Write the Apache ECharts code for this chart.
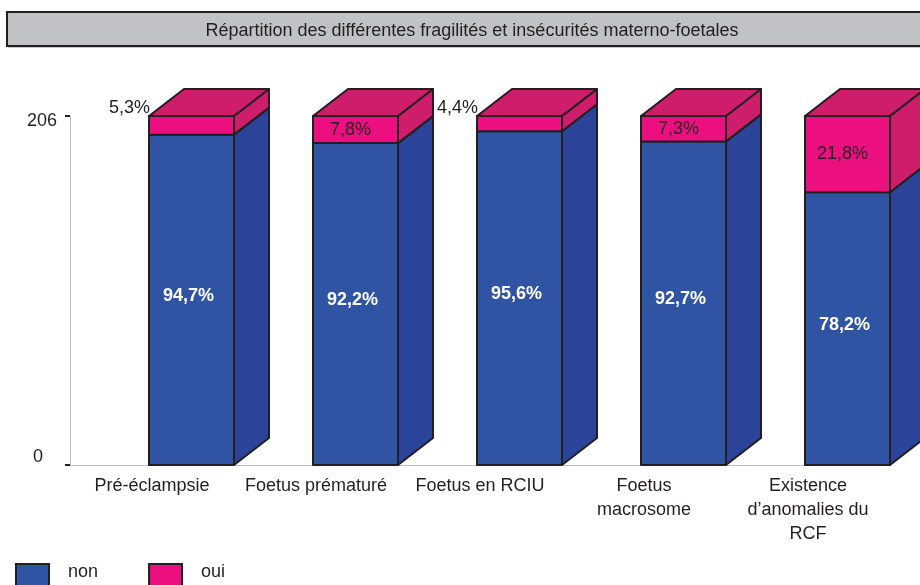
<!DOCTYPE html>
<html>
<head>
<meta charset="utf-8">
<title>Répartition des différentes fragilités et insécurités materno-foetales</title>
<script src="https://cdn.jsdelivr.net/npm/echarts@6/dist/echarts.min.js"></script>
<style>
	html, body { margin: 0; padding: 0; background: #fff; }
	#chart { width: 920px; height: 585px; }
</style>
</head>
<body>
<div id="chart"></div>
<script>
// categories (axe X)
var categories = ['Pré-éclampsie', 'Foetus prématuré', 'Foetus en RCIU', 'Foetus\nmacrosome', 'Existence\nd\u2019anomalies du\nRCF'];
// effectifs (n = 206)
var nonValues = [195, 190, 197, 191, 161];
var ouiValues = [11, 16, 9, 15, 45];
var yTicks = [0, 206];

var EDGE = '#231f20';
var FONT = '"Liberation Sans", Arial, sans-serif';
var FRONT_W = 85;   // largeur face avant
var DX = 35, DY = 27; // profondeur 3D

function formatPct(v, total) {
	return (v / total * 100).toFixed(1).replace('.', ',') + '%';
}

function totals() {
	return nonValues.map(function (v, i) { return v + ouiValues[i]; });
}

// serie "cube" empilee
function cubeSeries(name, values, bases, front, side, top, isTop) {
	var tot = totals();
	return {
		type: 'custom',
		name: name,
		clip: false,
		itemStyle: { color: front, borderColor: EDGE, borderWidth: 2 },
		encode: { x: 0, y: [1, 2] },
		data: values.map(function (v, i) { return [i, bases[i], bases[i] + v, v, tot[i]]; }),
		renderItem: function (params, api) {
			var i = api.value(0);
			var pLow = api.coord([i, api.value(1)]);
			var pHigh = api.coord([i, api.value(2)]);
			var band = api.size([1, 0])[0];
			var xr = pLow[0] + band / 2;
			var xl = xr - FRONT_W;
			var yb = pLow[1], yt = pHigh[1];
			var line = { stroke: EDGE, lineWidth: 2, lineJoin: 'round' };
			var children = [];
			children.push({
				type: 'polygon',
				shape: { points: [[xr, yb], [xr + DX, yb - DY], [xr + DX, yt - DY], [xr, yt]] },
				style: Object.assign({ fill: side }, line)
			});
			children.push({
				type: 'rect',
				shape: { x: xl, y: yt, width: FRONT_W, height: yb - yt },
				style: Object.assign({ fill: front }, line)
			});
			if (isTop) {
				children.push({
					type: 'polygon',
					shape: { points: [[xl, yt], [xr, yt], [xr + DX, yt - DY], [xl + DX, yt - DY]] },
					style: Object.assign({ fill: top }, line)
				});
			}
			var txt = formatPct(api.value(3), api.value(4));
			if (!isTop) {
				children.push({
					type: 'text',
					style: { text: txt, x: xl + FRONT_W / 2 - 3, y: (yb + yt) / 2 - 4, align: 'center', verticalAlign: 'middle',
						fill: '#fff', font: 'bold 18px ' + FONT }
				});
			} else if (yb - yt >= 20) {
				children.push({
					type: 'text',
					style: { text: txt, x: xl + FRONT_W / 2 - 5, y: (yb + yt) / 2, align: 'center', verticalAlign: 'middle',
						fill: EDGE, font: '18px ' + FONT }
				});
			} else {
				// petit segment : etiquette a l'exterieur
				children.push({
					type: 'text',
					style: { text: txt, x: xl + 1, y: yt - 8, align: 'right', verticalAlign: 'middle',
						fill: EDGE, font: '18px ' + FONT }
				});
			}
			return { type: 'group', children: children };
		}
	};
}

var chart = echarts.init(document.getElementById('chart'));
var zeros = nonValues.map(function () { return 0; });

var option = {
	animation: false,
	title: {
		text: 'Répartition des différentes fragilités et insécurités materno-foetales',
		left: 472,
		top: 22,
		padding: 0,
		textAlign: 'center',
		textStyle: { fontFamily: FONT, fontSize: 18, fontWeight: 'normal', color: EDGE }
	},
	graphic: [
		{
			type: 'rect', z: -1,
			shape: { x: 8, y: 14, width: 940, height: 34 },
			style: { fill: '#c9c9cb' }
		},
		{
			type: 'rect', z: -1,
			shape: { x: 7, y: 12, width: 940, height: 34 },
			style: { fill: '#c1c2c5', stroke: EDGE, lineWidth: 2 }
		}
	],
	legend: {
		left: 15,
		top: 563,
		padding: 0,
		itemWidth: 33,
		itemHeight: 28,
		itemGap: 50,
		icon: 'rect',
		itemStyle: { borderColor: EDGE, borderWidth: 2 },
		formatter: '{n|{name}}',
		textStyle: {
			fontFamily: FONT, fontSize: 18, color: EDGE,
			rich: { n: { fontFamily: FONT, fontSize: 18, color: EDGE, padding: [0, 0, 12, 14] } }
		},
		data: ['non', 'oui']
	},
	grid: { left: 70, right: 30, top: 116, bottom: 120 },
	xAxis: {
		type: 'category',
		data: categories,
		boundaryGap: true,
		axisLine: { lineStyle: { color: '#bdbdbd', width: 1 } },
		axisTick: { lineStyle: { color: EDGE, width: 2 }, length: 10,
			interval: function (index) { return index > 0; } },
		axisLabel: { interval: 0, fontFamily: FONT, fontSize: 18, color: EDGE, lineHeight: 24, margin: 9 }
	},
	yAxis: {
		type: 'value',
		min: yTicks[0],
		max: yTicks[1],
		interval: yTicks[1] - yTicks[0],
		splitLine: { show: false },
		axisLine: { show: true, lineStyle: { color: '#bdbdbd', width: 1 } },
		axisTick: { show: true, length: 5, lineStyle: { color: EDGE, width: 2 } },
		axisLabel: {
			margin: 13,
			fontFamily: FONT, fontSize: 18, color: EDGE,
			formatter: function (v) { return v === 0 ? '{z|0}' : '{t|' + v + '}'; },
			rich: {
				z: { fontFamily: FONT, fontSize: 18, color: EDGE, padding: [0, 14, 16, 0] },
				t: { fontFamily: FONT, fontSize: 18, color: EDGE, padding: [10, 0, 0, 0] }
			}
		}
	},
	series: [
		cubeSeries('non', nonValues, zeros, '#2f54a3', '#2b449a', '#2b449a', false),
		cubeSeries('oui', ouiValues, nonValues, '#ec0f7f', '#cd1d6b', '#cd1d6b', true)
	]
};

chart.setOption(option);
</script>
</body>
</html>
